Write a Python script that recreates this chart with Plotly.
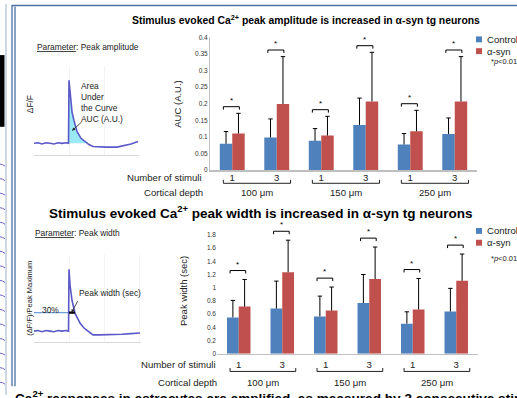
import plotly.graph_objects as go

W, H = 517, 398
def px(x): return x / W
def py(y): return 1 - y / H

# ---------------- data ----------------
stimuli = ["1", "3", "1", "3", "1", "3"]
depths = ["100 μm", "150 μm", "250 μm"]
series_names = ["Control", "α-syn"]

auc_control = [0.079, 0.098, 0.088, 0.136, 0.077, 0.109]
auc_control_sd = [0.037, 0.056, 0.037, 0.081, 0.033, 0.048]
auc_asyn = [0.110, 0.199, 0.104, 0.207, 0.117, 0.207]
auc_asyn_sd = [0.061, 0.143, 0.058, 0.148, 0.063, 0.135]

width_control = [0.550, 0.684, 0.565, 0.768, 0.456, 0.640]
width_control_sd = [0.258, 0.416, 0.308, 0.432, 0.179, 0.350]
width_asyn = [0.714, 1.235, 0.654, 1.130, 0.669, 1.105]
width_asyn_sd = [0.411, 0.485, 0.356, 0.486, 0.471, 0.405]

# example traces for the parameter schematics
amp_t = [0, 4, 8, 12, 16, 20, 24, 28, 32, 34.5, 35, 36, 38, 40, 43, 47, 51, 55, 59, 65, 72, 83, 90, 97, 104]
amp_v = [0.0, 0.01, -0.01, 0.01, 0.0, -0.01, 0.01, 0.0, 0.01, 0.0, 1.0, 0.78, 0.5, 0.36, 0.19, 0.08, 0.03,
         -0.02, -0.05, -0.06, -0.06, -0.06, -0.04, -0.01, 0.03]
wid_t = [0, 4, 8, 12, 16, 20, 24, 28, 32, 34.5, 35, 36, 38, 41, 46, 50, 54, 59, 65, 72, 79, 88, 97, 106]
wid_v = [0.0, 0.01, -0.01, 0.01, 0.0, -0.01, 0.01, 0.0, 0.01, 0.0, 1.0, 0.75, 0.5, 0.29, 0.13, 0.05, 0.0,
         -0.06, -0.06, -0.06, -0.06, -0.05, -0.04, -0.03]
width_level = 0.3

BLUE = "#4F81BD"
RED = "#C0504D"
TRACE = "#5b58c8"
FONT = "Liberation Sans, Arial, sans-serif"

def ann(**kw):
    kw.setdefault("showarrow", False)
    kw.setdefault("xanchor", "center")
    kw.setdefault("yanchor", "middle")
    kw.setdefault("xref", "paper")
    kw.setdefault("yref", "paper")
    return kw

fig = go.Figure()

panels = [
    dict(xa="x", ya="y", xd=(210, 477), yd=(34, 169), rng=(0, 0.4),
         ctrl=auc_control, csd=auc_control_sd, asyn=auc_asyn, asd=auc_asyn_sd,
         ytitle="AUC (A.U.)", ytx=178, tick_y=177,
         brk_y=(179, 182.5), depth_y=192, nos_x=204, legend_y=(36, 48, 59), sigoff=0.02, gap=0.44),
    dict(xa="x2", ya="y2", xd=(217, 478), yd=(228.3, 356), rng=(0, 1.9),
         ctrl=width_control, csd=width_control_sd, asyn=width_asyn, asd=width_asyn_sd,
         ytitle="Peak width (sec)", ytx=183, tick_y=367,
         brk_y=(370.5, 374), depth_y=385, nos_x=218, legend_y=(231, 243, 259), sigoff=0.135, gap=0.46),
]

shapes = []
annotations = []
xs = list(range(len(stimuli)))

for i, p in enumerate(panels):
    xa, ya = p["xa"], p["ya"]
    off = (1 - p["gap"]) / 4
    unit_x = 1 / ((p["xd"][1] - p["xd"][0]) / 6)
    for name, vals, sds, col, sign in [(series_names[0], p["ctrl"], p["csd"], BLUE, -1),
                                        (series_names[1], p["asyn"], p["asd"], RED, 1)]:
        fig.add_trace(go.Bar(x=xs, y=vals, name=name, marker=dict(color=col, line=dict(width=0)),
                             width=(1 - p["gap"]) / 2, offset=(-(1 - p["gap"]) / 2 if sign < 0 else 0),
                             xaxis=xa, yaxis=ya, showlegend=False))
        # one-sided (upper) error bars
        ex, ey = [], []
        capw = 2.2 * unit_x
        for xi, v, s in zip(xs, vals, sds):
            xc = xi + sign * off
            ex += [xc, xc, None, xc - capw, xc + capw, None]
            ey += [v, v + s, None, v + s, v + s, None]
        fig.add_trace(go.Scatter(x=ex, y=ey, mode="lines", line=dict(color="black", width=1),
                                 xaxis=xa, yaxis=ya, showlegend=False, hoverinfo="skip"))
    # significance brackets
    unit_per_px = (p["rng"][1] - p["rng"][0]) / (p["yd"][1] - p["yd"][0])
    for xi, c, cs, a, as_ in zip(xs, p["ctrl"], p["csd"], p["asyn"], p["asd"]):
        lvl = max(c + cs, a + as_) + p["sigoff"]
        x0, x1 = xi - 0.2, xi + 0.16
        d = 3 * unit_per_px
        shapes.append(dict(type="path", xref=xa, yref=ya,
                           path=f"M{x0},{lvl-d} L{x0},{lvl} L{x1},{lvl} L{x1},{lvl-d}",
                           line=dict(color="black", width=1)))
        annotations.append(ann(x=(x0 + x1) / 2, y=lvl, xref=xa, yref=ya, text="*",
                               yanchor="bottom", font=dict(size=8, color="black", family=FONT)))
    # depth brackets below axis
    for g, dlabel in enumerate(depths):
        x0, x1 = 2 * g - 0.2, 2 * g + 1.31
        y0, y1 = py(p["brk_y"][0]), py(p["brk_y"][1])
        shapes.append(dict(type="path", xref=xa, yref="paper",
                           path=f"M{x0},{y0} L{x0},{y1} L{x1},{y1} L{x1},{y0}",
                           line=dict(color="#222", width=1)))
        annotations.append(ann(x=(x0 + x1) / 2, y=py(p["depth_y"]), xref=xa, text=dlabel,
                               font=dict(size=9.6, color="#222", family=FONT)))
    annotations.append(ann(x=px(p["nos_x"]), y=py(p["tick_y"]), text="Number of stimuli", xanchor="right",
                           font=dict(size=9.6, color="#222", family=FONT)))
    annotations.append(ann(x=px(p["nos_x"] + 1), y=py(p["depth_y"]), text="Cortical depth", xanchor="right",
                           font=dict(size=9.6, color="#222", family=FONT)))
    annotations.append(ann(x=px(p["ytx"]), y=(py(p["yd"][0]) + py(p["yd"][1])) / 2,
                           text=p["ytitle"], textangle=-90, font=dict(size=9.5, color="#222", family=FONT)))
    # legend
    ly = p["legend_y"]
    for k, col in enumerate([BLUE, RED]):
        shapes.append(dict(type="rect", xref="paper", yref="paper",
                           x0=px(476), x1=px(482), y0=py(ly[k] + 3), y1=py(ly[k] - 3),
                           fillcolor=col, line=dict(width=0)))
        annotations.append(ann(x=px(484.5), y=py(ly[k]), text=series_names[k], xanchor="left",
                               font=dict(size=9.6, color="#222", family=FONT)))
    annotations.append(ann(x=px(489), y=py(ly[2]), text="*<i>p</i>&lt;0.01", xanchor="left",
                           font=dict(size=7.5, color="#222", family=FONT)))

axis_common = dict(showgrid=False, zeroline=False, fixedrange=True)
fig.update_layout(
    xaxis=dict(domain=[px(210), px(477)], range=[-0.5, 5.5], tickvals=xs, ticktext=stimuli,
               showline=True, linecolor="#bfbfbf", linewidth=1.5, ticks="", anchor="y",
               ticklabelstandoff=-2,
               tickfont=dict(size=9.6, color="#222", family=FONT), **axis_common),
    yaxis=dict(domain=[py(169), py(34)], range=[0, 0.4], dtick=0.05, showline=True, linecolor="#bfbfbf",
               linewidth=1, ticks="", anchor="x", tickfont=dict(size=6.5, color="#333", family=FONT), **axis_common),
    xaxis2=dict(domain=[px(217), px(478)], range=[-0.5, 5.5], tickvals=xs, ticktext=stimuli,
                showline=True, linecolor="#bfbfbf", linewidth=1.5, ticks="", anchor="y2",
                ticklabelstandoff=1,
                tickfont=dict(size=9.6, color="#222", family=FONT), **axis_common),
    yaxis2=dict(domain=[py(356), py(228.3)], range=[0, 1.9], tickvals=[0, 0.2, 0.4, 0.6, 0.8, 1, 1.2, 1.4, 1.6, 1.8],
                showline=False, ticks="", anchor="x2",
                tickfont=dict(size=6.5, color="#333", family=FONT), **axis_common),
    xaxis3=dict(domain=[px(34), px(139)], range=[0, 105], anchor="y3", showticklabels=False, ticks="",
                showline=True, linecolor="#d8d8d8", showgrid=True, gridcolor="#f3f3f3", dtick=35,
                zeroline=False, fixedrange=True),
    yaxis3=dict(domain=[py(154), py(63)], range=[-0.19, 1.23], anchor="x3", showticklabels=False, ticks="",
                showline=False, showgrid=False, zeroline=False, fixedrange=True),
    xaxis4=dict(domain=[px(34), px(141)], range=[0, 107], anchor="y4", showticklabels=False, ticks="",
                showline=True, linecolor="#d8d8d8", showgrid=True, gridcolor="#f3f3f3", dtick=35,
                zeroline=False, fixedrange=True),
    yaxis4=dict(domain=[py(344), py(255)], range=[-0.175, 1.24], anchor="x4", showticklabels=False, ticks="",
                showline=False, showgrid=False, zeroline=False, fixedrange=True),
)

# schematic: AUC
peak_i = amp_v.index(max(amp_v))
fill_t = [amp_t[peak_i - 1]] + amp_t[peak_i:peak_i + 8]
fill_v = [0.0] + [max(v, 0) for v in amp_v[peak_i:peak_i + 8]]
fig.add_trace(go.Scatter(x=fill_t, y=fill_v, mode="lines", line=dict(width=0), fill="tozeroy",
                         fillcolor="rgba(120,225,240,0.75)", xaxis="x3", yaxis="y3", showlegend=False))
fig.add_trace(go.Scatter(x=amp_t, y=amp_v, mode="lines", line=dict(color=TRACE, width=1.6),
                         xaxis="x3", yaxis="y3", showlegend=False))

# schematic: width
wpk = wid_v.index(max(wid_v))
t_cross = None
for j in range(wpk, len(wid_v) - 1):
    if wid_v[j] >= width_level >= wid_v[j + 1]:
        f = (wid_v[j] - width_level) / (wid_v[j] - wid_v[j + 1])
        t_cross = wid_t[j] + f * (wid_t[j + 1] - wid_t[j])
        break
fig.add_trace(go.Scatter(x=[wid_t[0], wid_t[wpk]], y=[width_level, width_level], mode="lines",
                         line=dict(color="#6f9fd8", width=1.3), xaxis="x4", yaxis="y4", showlegend=False))
fig.add_trace(go.Scatter(x=wid_t, y=wid_v, mode="lines", line=dict(color=TRACE, width=1.6),
                         xaxis="x4", yaxis="y4", showlegend=False))
fig.add_trace(go.Scatter(x=[wid_t[wpk], t_cross], y=[width_level, width_level], mode="lines",
                         line=dict(color="black", width=2.2), xaxis="x4", yaxis="y4", showlegend=False))

small = dict(size=8.4, color="#222", family=FONT)
annotations += [
    ann(x=px(35), y=py(44), xanchor="left", text="<u>Parameter</u>: Peak amplitude", font=small),
    ann(x=px(79), y=py(100), xanchor="left", align="left",
        text="Area<br>Under<br>the Curve<br>AUC (A.U.)", font=small),
    dict(x=38, y=0.2, xref="x3", yref="y3", ax=11, ay=-10, text="", showarrow=True,
         arrowhead=2, arrowsize=0.8, arrowwidth=0.8, arrowcolor="#222"),
    ann(x=px(30), y=py(102), text="ΔF/F", textangle=-90, font=small),
    ann(x=px(33), y=py(233), xanchor="left", text="<u>Parameter</u>: Peak width", font=small),
    ann(x=px(77), y=py(294), xanchor="left", text="Peak width (sec)", font=small),
    dict(x=37.5, y=width_level, xref="x4", yref="y4", ax=7, ay=-13, text="", showarrow=True,
         arrowhead=2, arrowsize=0.8, arrowwidth=0.8, arrowcolor="#222"),
    ann(x=px(40), y=py(311), xanchor="left", text="30%", font=small),
    ann(x=px(30), y=py(300), text="(ΔF/F)/Peak Maximum", textangle=-90,
        font=dict(size=7.5, color="#222", family=FONT)),
    ann(x=px(306), y=py(16),
        text="<b>Stimulus evoked Ca<sup>2+</sup> peak amplitude is increased in α-syn tg neurons</b>",
        font=dict(size=10.4, color="black", family=FONT)),
    ann(x=px(260), y=py(212),
        text="<b>Stimulus evoked Ca<sup>2+</sup> peak width is increased in α-syn tg neurons</b>",
        font=dict(size=13.5, color="black", family=FONT)),
    ann(x=px(13), y=py(389), xanchor="left", yanchor="top",
        text="<b>Ca<sup>2+</sup> responses in astrocytes are amplified, as measured by 3 consecutive stimuli</b>",
        font=dict(size=13.6, color="black", family=FONT)),
]

# poster frame decorations
shapes += [
    dict(type="line", xref="paper", yref="paper", x0=px(6), x1=px(6), y0=0, y1=1,
         line=dict(color="#9db0cc", width=1)),
    dict(type="line", xref="paper", yref="paper", x0=px(12), x1=px(12), y0=py(389), y1=py(1),
         line=dict(color="#4a6fa5", width=1.3)),
    dict(type="line", xref="paper", yref="paper", x0=px(15), x1=px(15), y0=py(389), y1=py(2.5),
         line=dict(color="#4a6fa5", width=1.3)),
    dict(type="line", xref="paper", yref="paper", x0=px(12), x1=1, y0=py(1.5), y1=py(1.5),
         line=dict(color="#4a6fa5", width=1.5)),
    dict(type="rect", xref="paper", yref="paper", x0=0, x1=px(4.5), y0=py(125), y1=py(52),
         fillcolor="black", line=dict(width=0)),
]
for k in range(16):
    yy = 163 + 14.8 * k
    shapes.append(dict(type="path", xref="paper", yref="paper",
                       path=f"M0,{py(yy)} L{px(2.5)},{py(yy + 0.5)} L{px(5)},{py(yy + 2)}",
                       line=dict(color="#6a64c4", width=1)))

fig.update_layout(
    width=W, height=H, margin=dict(l=0, r=0, t=0, b=0),
    paper_bgcolor="white", plot_bgcolor="white",
    shapes=shapes, annotations=annotations, showlegend=False, barmode="overlay",
)

fig.write_html("out.html", config={"displayModeBar": False, "staticPlot": True},
               post_script="document.body.style.margin='0';document.body.style.overflow='hidden';")
